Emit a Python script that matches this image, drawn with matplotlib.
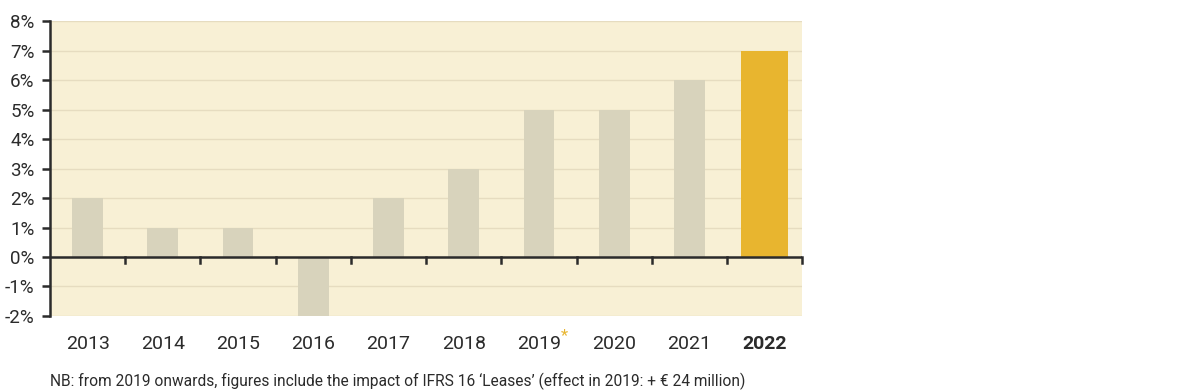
import matplotlib.pyplot as plt
import numpy as np

plt.rcParams["font.family"] = ["Roboto", "DejaVu Sans"]

# Data
years = ["2013", "2014", "2015", "2016", "2017", "2018", "2019", "2020", "2021", "2022"]
growth = [2, 1, 1, -2, 2, 3, 5, 5, 6, 7]
yticks = [-2, -1, 0, 1, 2, 3, 4, 5, 6, 7, 8]
note = "NB: from 2019 onwards, figures include the impact of IFRS 16 \u2018Leases\u2019 (effect in 2019: + \u20ac 24 million)"

bg = "#f8f0d5"
grey_bar = "#d8d3bc"
gold_bar = "#e8b52f"
dark = "#2b2b2b"

fig = plt.figure(figsize=(11.81, 3.92), dpi=100)
ax = fig.add_axes([0.0423, 0.194, 0.637, 0.752])
ax.set_facecolor(bg)

x = np.arange(len(years))
colors = [grey_bar] * (len(years) - 1) + [gold_bar]
widths = [0.41] * (len(years) - 1) + [0.63]
ax.bar(x, growth, width=widths, color=colors, zorder=2)

ax.set_xlim(-0.5, len(years) - 0.5)
ax.set_ylim(-2, 8)
ax.set_yticks(yticks)
ax.set_yticklabels([f"{v}%" for v in yticks], fontsize=13.5, color=dark)
ax.yaxis.grid(True, color="#e6dcc0", linewidth=1, zorder=0)

# zero line with tick marks between categories
ax.axhline(0, color=dark, linewidth=1.8, zorder=3)
for b in np.arange(0.5, len(years), 1.0):
    ax.plot([b, b], [0, -0.2], color=dark, linewidth=1.8, zorder=3, clip_on=False)

ax.set_xticks(x)
ax.set_xticklabels(years, fontsize=14, color=dark)
ax.get_xticklabels()[-1].set_fontweight("bold")
ax.tick_params(axis="x", length=0, pad=14)
ax.tick_params(axis="y", length=6, width=1.8, color=dark, pad=5)

for s in ["top", "right", "bottom"]:
    ax.spines[s].set_visible(False)
ax.spines["left"].set_color(dark)
ax.spines["left"].set_linewidth(1.8)

# asterisk next to 2019
ax.annotate("*", xy=(6, -2), xytext=(18.5, -14), textcoords="offset points",
            color=gold_bar, fontsize=12, ha="center", va="center",
            annotation_clip=False)

fig.text(0.042, 0.004, note, fontsize=11.2, color=dark, ha="left", va="bottom")

fig.savefig("out.png", dpi=100)
plt.close(fig)
